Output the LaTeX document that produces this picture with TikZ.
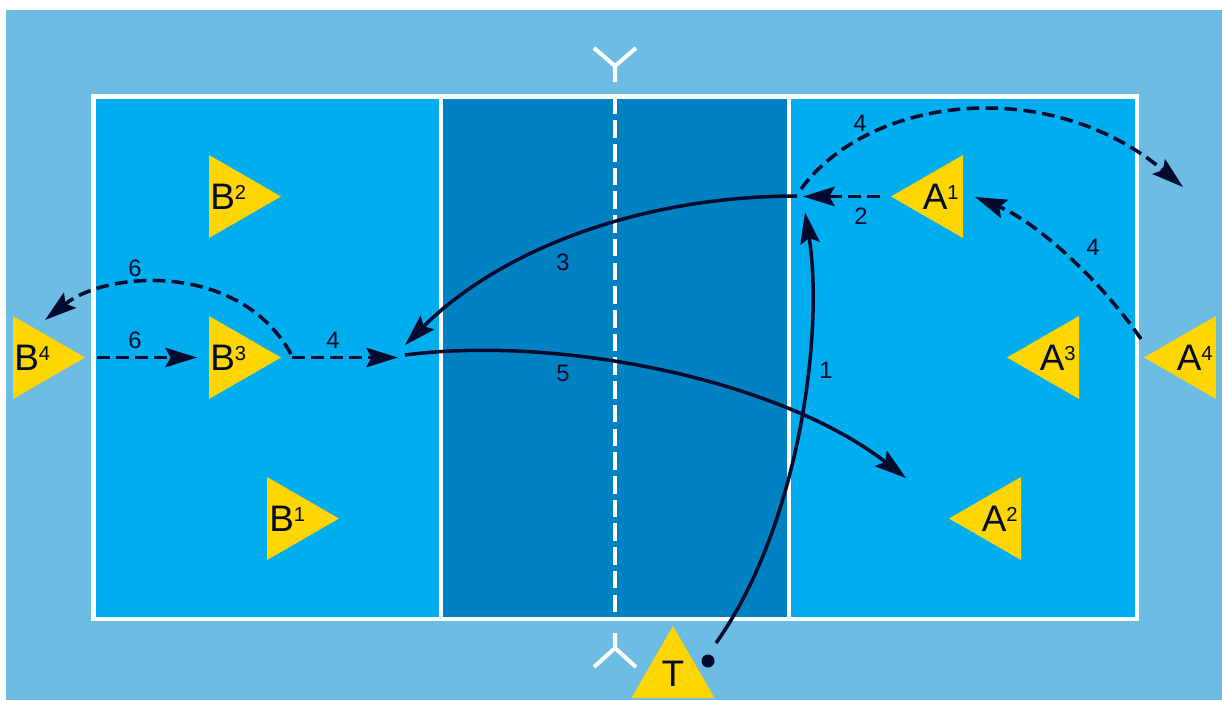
\documentclass[tikz,border=0pt]{standalone}
\usepackage{fontspec}
\setmainfont{Liberation Sans}
\usepackage{xcolor}
\usepackage{tikz}
\usetikzlibrary{arrows.meta}
\definecolor{outerblue}{RGB}{108,188,228}
\definecolor{courtblue}{RGB}{0,174,239}
\definecolor{zoneblue}{RGB}{0,130,194}
\definecolor{playeryellow}{RGB}{255,214,0}
\definecolor{ink}{RGB}{2,10,46}
\newcommand{\plyr}[2]{#1\raisebox{5.8pt}{\fontsize{11.5}{11.5}\selectfont#2}}

\begin{document}
\begin{tikzpicture}[x=0.02cm,y=-0.02cm,
  line/.style={draw=white, line width=2.3pt},
  player/.style={fill=playeryellow},
  plabel/.style={inner sep=0pt, text=ink, font=\fontsize{21}{21}\selectfont},
  num/.style={inner sep=0pt, text=ink, font=\fontsize{13.5}{13.5}\selectfont},
  pass/.style={-{Stealth[length=18pt,width=11pt,inset=3pt]}, line width=2pt, draw=ink},
  run/.style={pass, dash pattern=on 7.2pt off 3.6pt}]
  \useasboundingbox (0,0) rectangle (1222,700);
  \fill[white] (0,0) rectangle (1222,700);
  \fill[outerblue] (6,10) rectangle (1222,700);

  \fill[courtblue] (93.5,96.5) rectangle (1136.5,619);
  \fill[zoneblue] (441,96.5) rectangle (789,619);
  \draw[line] (93.5,96.5) rectangle (1136.5,619);
  \draw[line] (441,96.5) -- (441,619);
  \draw[line] (789,96.5) -- (789,619);
  \draw[line, dash pattern=on 10pt off 3.5pt] (615,96.5) -- (615,619);
  \draw[line] (615,82) -- (615,66) -- (594,48) (615,66) -- (636,48);
  \draw[line] (615,633) -- (615,648) -- (594,667) (615,648) -- (636,667);

  \fill[player] (209,155) -- (209,238) -- (281,196.5) -- cycle;
  \node[plabel, anchor=base west] (b2) at (210,209.5) {\plyr{B}{2}};
  \fill[player] (209,316) -- (209,399) -- (281,357.5) -- cycle;
  \node[plabel, anchor=base west] (b3) at (210,370.5) {\plyr{B}{3}};
  \fill[player] (13,316) -- (13,399) -- (85,357.5) -- cycle;
  \node[plabel, anchor=base west] (b4) at (14,370.5) {\plyr{B}{4}};
  \fill[player] (267,477) -- (267,560) -- (339,518.5) -- cycle;
  \node[plabel, anchor=base west] (b1) at (269,531.5) {\plyr{B}{1}};

  \fill[player] (963,155) -- (963,238) -- (891,196.5) -- cycle;
  \node[plabel, anchor=base east] (a1) at (959,209.5) {\plyr{A}{1}};
  \fill[player] (1079,316) -- (1079,399) -- (1007,357.5) -- cycle;
  \node[plabel, anchor=base east] (a3) at (1076,370.5) {\plyr{A}{3}};
  \fill[player] (1216,316) -- (1216,399) -- (1144,357.5) -- cycle;
  \node[plabel, anchor=base east] (a4) at (1213,370.5) {\plyr{A}{4}};
  \fill[player] (1021,477) -- (1021,560) -- (949,518.5) -- cycle;
  \node[plabel, anchor=base east] (a2) at (1018,531.5) {\plyr{A}{2}};

  \fill[player] (673,626) -- (631.5,698) -- (714.5,698) -- cycle;
  \node[plabel, anchor=base] (t) at (673,686) {T};
  \fill[ink] (708,661) circle (3.7pt);

  \coordinate (toss) at (716,643);
  \coordinate (setpt) at (805,212);
  \coordinate (a1go) at (880,196.5);
  \coordinate (a1end) at (803,196.5);
  \coordinate (setgo) at (797,196);
  \coordinate (b3catch) at (405,345);
  \coordinate (b3shot) at (405,355);
  \coordinate (landpt) at (906,478);
  \coordinate (b3go) at (292,357.5);
  \coordinate (b3end) at (398,357.5);
  \coordinate (b4go) at (97,357.5);
  \coordinate (b4end) at (197,357.5);
  \coordinate (b3back) at (291,354);
  \coordinate (b4back) at (45,320);
  \coordinate (a4go) at (1141,339);
  \coordinate (a4end) at (975,197);
  \coordinate (a1out) at (801,189);
  \coordinate (a1off) at (1183,187);

  \draw[pass] (toss) .. controls (800,525) and (824,330) .. (setpt);
  \draw[run] (a1go) -- (a1end);
  \draw[pass] (setgo) .. controls (640,196) and (500,250) .. (b3catch);
  \draw[pass] (b3shot) .. controls (560,335) and (780,380) .. (landpt);
  \draw[run] (b3go) -- (b3end);
  \draw[run] (b4go) -- (b4end);
  \draw[run] (b3back) .. controls (240,262) and (108,270) .. (b4back);
  \draw[run] (a4go) .. controls (1102,282) and (1037,222) .. (a4end);
  \draw[run] (a1out) .. controls (870,95) and (1050,75) .. (a1off);

  \node[num] (n1) at (826,370) {1};
  \node[num] (n2) at (861,216) {2};
  \node[num] (n3) at (563,262) {3};
  \node[num] (n5) at (563,373) {5};
  \node[num] (n4a) at (860,123) {4};
  \node[num] (n4b) at (1093,247) {4};
  \node[num] (n4c) at (333,340) {4};
  \node[num] (n6a) at (135,268) {6};
  \node[num] (n6b) at (135,340) {6};
\end{tikzpicture}
\end{document}
